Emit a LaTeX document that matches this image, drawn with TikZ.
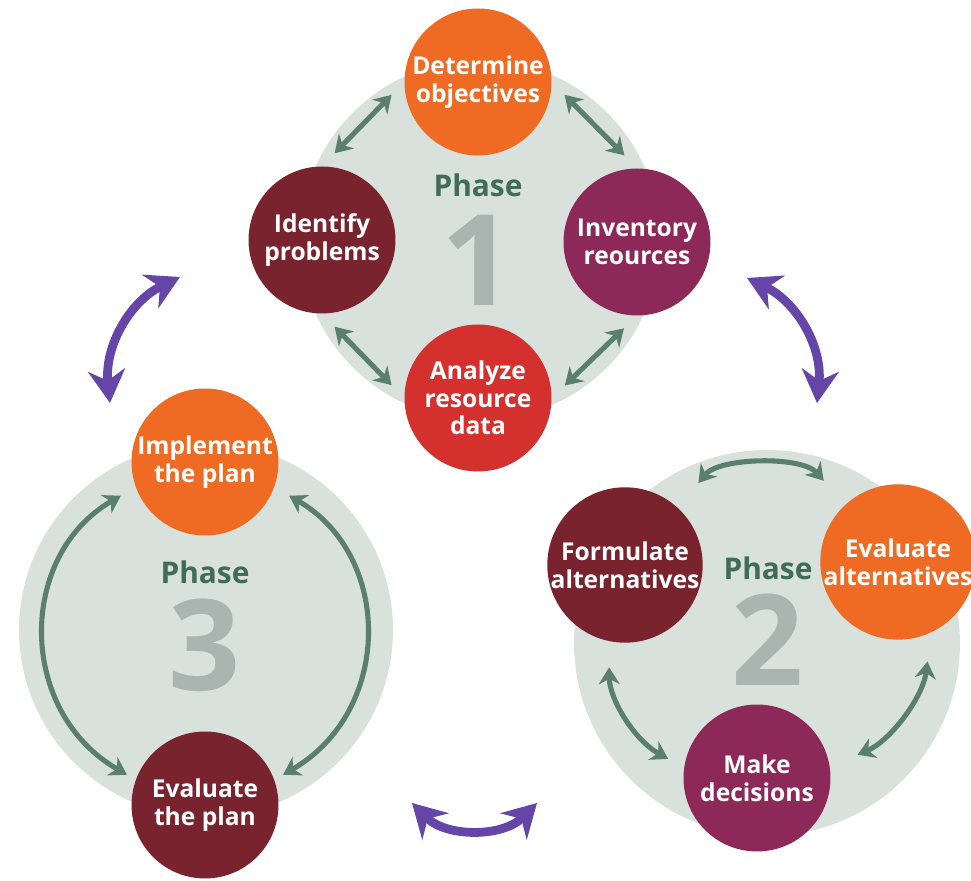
\documentclass[tikz,border=0pt]{standalone}
\usepackage{fontspec}
\setmainfont{Open Sans}
\usetikzlibrary{arrows.meta, positioning}
\definecolor{planOrange}{HTML}{EF6A22}
\definecolor{planMaroon}{HTML}{78232D}
\definecolor{planPlum}{HTML}{8C2959}
\definecolor{planRed}{HTML}{D4302D}
\definecolor{planGray}{HTML}{D9E1DD}
\definecolor{planGreen}{HTML}{416B5C}
\definecolor{planArrow}{HTML}{5A7F70}
\definecolor{planNum}{HTML}{A9B5B0}
\definecolor{planPurple}{HTML}{6546A8}

\begin{document}
\begin{tikzpicture}[
    x=0.02cm, y=0.02cm,
    phasedisk/.style={circle, fill=planGray, inner sep=0pt},
    task/.style={circle, fill=#1, minimum size=2.94cm, inner sep=0pt,
                 align=center, text=white,
                 font=\fontsize{14}{15.8}\selectfont\bfseries},
    phaselabel/.style={text=planGreen, font=\fontsize{17}{17}\selectfont\bfseries},
    phasenum/.style={text=planNum, font=\fontsize{72}{72}\selectfont\bfseries},
    link/.style={draw=planArrow, line width=2.9pt,
                 {Stealth[length=0.34cm, width=0.42cm]}-{Stealth[length=0.34cm, width=0.42cm]}},
    cycle/.style={draw=planPurple, line width=5pt,
                  {Stealth[length=0.66cm, width=0.74cm]}-{Stealth[length=0.66cm, width=0.74cm]}},
    gap/.style={shorten <=#1, shorten >=#1},
  ]
    \useasboundingbox (0,0) rectangle (971,881);

    % phase backgrounds
    \node[phasedisk, minimum size=7.2cm]  (p1) at (480,641) {};
    \node[phasedisk, minimum size=7.72cm] (p2) at (767,238) {};
    \node[phasedisk, minimum size=7.48cm] (p3) at (206,251) {};

    \node[phaselabel] (l1) at (478,696) {Phase};
    \node[phasenum]   (n1) at (478,621) {1};
    \node[phaselabel] (l2) at (768,313) {Phase};
    \node[phasenum]   (n2) at (768,241) {2};
    \node[phaselabel] (l3) at (205,309) {Phase};
    \node[phasenum]   (n3) at (205,236) {3};

    % phase 1
    \node[task=planOrange] (do) at (478,799) {Determine\\objectives};
    \node[task=planMaroon] (ip) at (322,641) {Identify\\problems};
    \node[task=planPlum]   (ir) at (637,639) {Inventory\\reources};
    \node[task=planRed]    (ar) at (478,483) {Analyze\\resource\\data};

    % phase 2
    \node[task=planMaroon] (fa) at (625,316) {Formulate\\alternatives};
    \node[task=planOrange] (ea) at (898,319) {Evaluate\\alternatives};
    \node[task=planPlum]   (md) at (757,103) {Make\\decisions};

    % phase 3
    \node[task=planOrange] (im) at (205,419) {Implement\\the plan};
    \node[task=planMaroon] (ev) at (205,76)  {Evaluate\\the plan};

    \draw[link, gap=0.36cm] (ip.north) -- (do.west);
    \draw[link, gap=0.36cm] (do.east) -- (ir.north);
    \draw[link, gap=0.36cm] (ip.south) -- (ar.west);
    \draw[link, gap=0.36cm] (ir.south) -- (ar.east);

    \draw[link, gap=0.64cm] (fa.47) to[bend left=50] (ea.133);
    \draw[link, shorten <=0.52cm, shorten >=0.36cm] (fa.258) to[bend right=30] (md.172);
    \draw[link, shorten <=0.58cm, shorten >=0.6cm] (ea.295) to[bend left=30] (md.9);

    \draw[link, shorten <=0.34cm, shorten >=0.2cm] (im.200) to[bend right=60, looseness=1.2] (ev.160);
    \draw[link, shorten <=0.34cm, shorten >=0.2cm] (im.340) to[bend left=60, looseness=1.2] (ev.20);

    % between phases
    \coordinate (c13a) at (180,604);
    \coordinate (c13b) at (110,478);
    \coordinate (c12a) at (747,603);
    \coordinate (c12b) at (817,478);
    \coordinate (c23a) at (412,78);
    \coordinate (c23b) at (537,78);
    \draw[cycle] (c13a) to[bend right=35] (c13b);
    \draw[cycle] (c12a) to[bend left=35] (c12b);
    \draw[cycle] (c23a) to[bend right=45] (c23b);
\end{tikzpicture}
\end{document}
